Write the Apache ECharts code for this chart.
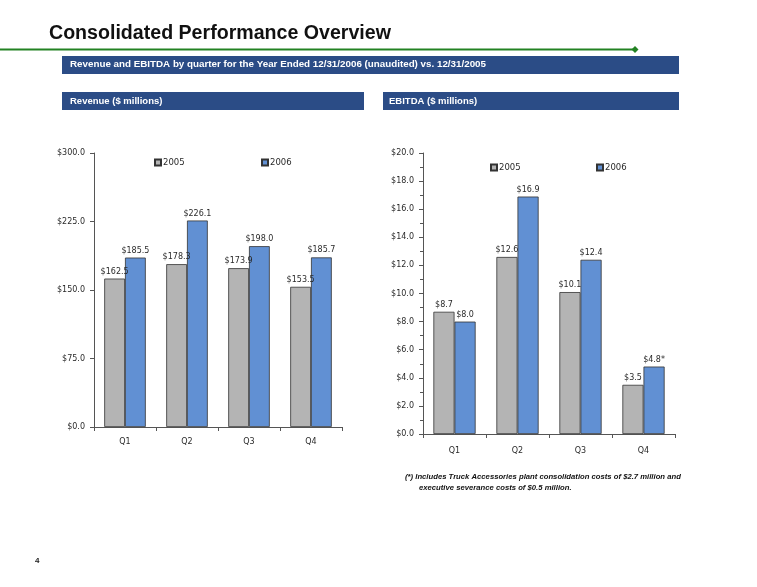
<!DOCTYPE html>
<html>
<head>
<meta charset="utf-8">
<script src="https://cdn.jsdelivr.net/npm/echarts@6/dist/echarts.min.js"></script>
<style>
html,body{margin:0;padding:0;background:#fff;}
#chart{width:757px;height:587px;}
</style>
</head>
<body>
<div id="chart"></div>
<script>
// ---- data ----
var quarters = ['Q1', 'Q2', 'Q3', 'Q4'];
var seriesNames = ['2005', '2006'];
var revenue2005 = [162.5, 178.3, 173.9, 153.5];
var revenue2006 = [185.5, 226.1, 198.0, 185.7];
var ebitda2005 = [8.7, 12.6, 10.1, 3.5];
var ebitda2006 = [8.0, 16.9, 12.4, 4.8];
var ebitda2006Marks = ['', '', '', '*'];
var revenueTicks = [0, 75, 150, 225, 300];
var ebitdaTicks = [0, 2, 4, 6, 8, 10, 12, 14, 16, 18, 20];

var titleText = 'Consolidated Performance Overview';
var bannerText = 'Revenue and EBITDA by quarter for the Year Ended 12/31/2006 (unaudited) vs. 12/31/2005';
var revenueHeader = 'Revenue ($ millions)';
var ebitdaHeader = 'EBITDA ($ millions)';
var footnote1 = '(*) Includes Truck Accessories plant consolidation costs of $2.7 million and';
var footnote2 = 'executive severance costs of $0.5 million.';
var pageNumber = '4';

// ---- styles ----
var GRAY = '#B4B4B4', BLUE = '#6190D3', NAVY = '#2B4C86', GREEN = '#238223';
var AXIS = '#555';
var FONT = 'DejaVu Sans';
var HFONT = 'Liberation Sans';

function money(v) { return '$' + Number(v).toFixed(1); }

var chart = echarts.init(document.getElementById('chart'), null, {renderer: 'canvas'});

function yAxis(gridIndex, ticks, margin, minor) {
  return {
    type: 'value', gridIndex: gridIndex,
    min: ticks[0], max: ticks[ticks.length - 1], interval: ticks[1] - ticks[0],
    axisLine: {show: true, lineStyle: {color: AXIS, width: 1}},
    axisTick: {show: true, length: 4, lineStyle: {color: AXIS}},
    minorTick: {show: minor, splitNumber: 2, length: 3, lineStyle: {color: AXIS}},
    splitLine: {show: false},
    axisLabel: {formatter: money, color: '#2a2a2a', fontFamily: FONT, fontSize: 8, margin: margin}
  };
}
function xAxis(gridIndex, margin) {
  return {
    type: 'category', gridIndex: gridIndex, data: quarters,
    axisLine: {lineStyle: {color: AXIS, width: 1}},
    axisTick: {show: true, length: 4, lineStyle: {color: AXIS}},
    axisLabel: {color: '#2a2a2a', fontFamily: FONT, fontSize: 8, margin: margin}
  };
}
function barSeries(name, idx, data, color, marks) {
  return {
    type: 'bar', name: name, xAxisIndex: idx, yAxisIndex: idx, data: data,
    barGap: '0%', barCategoryGap: '33%',
    itemStyle: {color: color, borderColor: '#333', borderWidth: 0.8},
    label: {
      show: true, position: 'top', distance: 3, color: '#2a2a2a', fontFamily: FONT, fontSize: 8,
      formatter: function (p) { return money(p.value) + (marks ? marks[p.dataIndex] : ''); }
    }
  };
}
function legendItem(name, left, top) {
  return {
    data: [name], left: left, top: top, padding: 0, itemWidth: 6, itemHeight: 6, itemGap: 0,
    icon: 'rect', selectedMode: false,
    textStyle: {fontFamily: FONT, fontSize: 8.5, color: '#2a2a2a', padding: [0, 0, 0, -3]}
  };
}

var option = {
  animation: false,
  backgroundColor: '#fff',
  grid: [
    {left: 94, top: 153, width: 248, height: 274},
    {left: 423, top: 153, width: 252, height: 281}
  ],
  xAxis: [xAxis(0, 11), xAxis(1, 13)],
  yAxis: [yAxis(0, revenueTicks, 9, false), yAxis(1, ebitdaTicks, 9, true)],
  legend: [
    legendItem(seriesNames[0], 154, 158),
    legendItem(seriesNames[1], 261, 158),
    legendItem(seriesNames[0], 490, 163),
    legendItem(seriesNames[1], 596, 163)
  ],
  series: [
    barSeries(seriesNames[0], 0, revenue2005, GRAY),
    barSeries(seriesNames[1], 0, revenue2006, BLUE),
    barSeries(seriesNames[0], 1, ebitda2005, GRAY),
    barSeries(seriesNames[1], 1, ebitda2006, BLUE, ebitda2006Marks)
  ],
  graphic: [
    {type: 'text', left: 49, top: 24, style: {text: titleText, font: 'bold 19.6px ' + HFONT, fill: '#111'}},
    {type: 'line', shape: {x1: 0, y1: 49.5, x2: 635, y2: 49.5}, style: {stroke: GREEN, lineWidth: 2.2}},
    {type: 'polygon', shape: {points: [[635, 46], [638.5, 49.5], [635, 53], [631.5, 49.5]]}, style: {fill: GREEN}},
    {type: 'rect', shape: {x: 62, y: 56, width: 617, height: 18}, style: {fill: NAVY}},
    {type: 'text', left: 70, top: 59.5, style: {text: bannerText, font: 'bold 9.8px ' + HFONT, fill: '#fff'}},
    {type: 'rect', shape: {x: 62, y: 92, width: 302, height: 18}, style: {fill: NAVY}},
    {type: 'text', left: 70, top: 96, style: {text: revenueHeader, font: 'bold 9.5px ' + HFONT, fill: '#fff'}},
    {type: 'rect', shape: {x: 383, y: 92, width: 296, height: 18}, style: {fill: NAVY}},
    {type: 'text', left: 389, top: 96, style: {text: ebitdaHeader, font: 'bold 9.5px ' + HFONT, fill: '#fff'}},
    {type: 'text', left: 405, top: 473, style: {text: footnote1, font: 'italic bold 7.7px ' + HFONT, fill: '#111'}},
    {type: 'text', left: 419, top: 484, style: {text: footnote2, font: 'italic bold 7.7px ' + HFONT, fill: '#111'}},
    {type: 'text', left: 35, top: 557, style: {text: pageNumber, font: 'bold 8px ' + HFONT, fill: '#222'}}
  ]
};
chart.setOption(option);
</script>
</body>
</html>
